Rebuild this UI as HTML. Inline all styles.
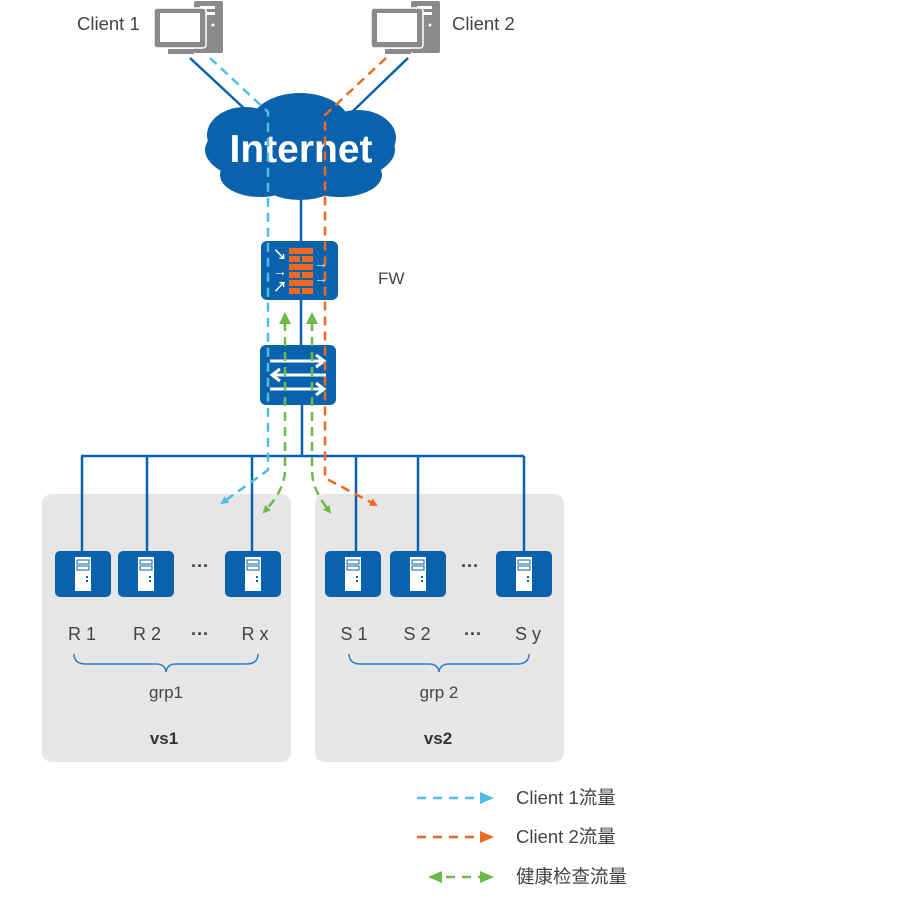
<!DOCTYPE html>
<html><head><meta charset="utf-8"><style>
html,body{margin:0;padding:0;background:#fff;}
svg{display:block;}
text{font-family:"Liberation Sans","Noto Sans CJK SC",sans-serif;fill:#444;}
</style></head><body>
<svg width="918" height="905" viewBox="0 0 918 905" xmlns="http://www.w3.org/2000/svg">
<defs>
<g id="pc">
  <rect x="40" y="0" width="29" height="52" rx="2" fill="#8a8a8a"/>
  <rect x="46" y="5" width="15" height="3" fill="#fff"/>
  <rect x="46" y="11" width="15" height="3" fill="#fff"/>
  <circle cx="59" cy="24" r="1.5" fill="#fff"/>
  <rect x="0" y="7" width="52" height="40" rx="3" fill="#8a8a8a" stroke="#fff" stroke-width="1.5"/>
  <rect x="6" y="12" width="40" height="29" fill="#fff"/>
  <rect x="14" y="48" width="26" height="5" fill="#8a8a8a"/>
</g>
<g id="srv">
  <rect x="0" y="0" width="56" height="46" rx="5" fill="#0b62ac"/>
  <rect x="20" y="6" width="16" height="34" fill="#fff"/>
  <rect x="22" y="9" width="12" height="4" fill="none" stroke="#0b62ac" stroke-width="1"/>
  <rect x="22" y="15" width="12" height="4" fill="none" stroke="#0b62ac" stroke-width="1"/>
  <rect x="31" y="25" width="2" height="2" fill="#0b62ac"/>
  <rect x="31" y="29" width="2" height="2" fill="#0b62ac"/>
</g>
<marker id="ac" markerWidth="8" markerHeight="8" refX="6" refY="4" orient="auto" markerUnits="userSpaceOnUse"><path d="M0,0 L8,4 L0,8z" fill="#4fbde6"/></marker>
<marker id="ao" markerWidth="8" markerHeight="8" refX="6" refY="4" orient="auto" markerUnits="userSpaceOnUse"><path d="M0,0 L8,4 L0,8z" fill="#ee6a1f"/></marker>
<marker id="ag" markerWidth="8" markerHeight="8" refX="6" refY="4" orient="auto" markerUnits="userSpaceOnUse"><path d="M0,0 L8,4 L0,8z" fill="#6cba4a"/></marker>
<marker id="acl" markerWidth="14" markerHeight="12" refX="12" refY="6" orient="auto" markerUnits="userSpaceOnUse"><path d="M0,0 L14,6 L0,12z" fill="#4fbde6"/></marker>
<marker id="aol" markerWidth="14" markerHeight="12" refX="12" refY="6" orient="auto" markerUnits="userSpaceOnUse"><path d="M0,0 L14,6 L0,12z" fill="#ee6a1f"/></marker>
<marker id="agl" markerWidth="14" markerHeight="12" refX="12" refY="6" orient="auto-start-reverse" markerUnits="userSpaceOnUse"><path d="M0,0 L14,6 L0,12z" fill="#6cba4a"/></marker>
</defs>

<rect x="42" y="494" width="249" height="268" rx="10" fill="#e6e6e6"/>
<rect x="315" y="494" width="249" height="268" rx="10" fill="#e6e6e6"/>

<use href="#pc" x="154" y="1"/>
<use href="#pc" x="371" y="1"/>
<text x="77" y="30" font-size="18.5">Client 1</text>
<text x="452" y="30" font-size="18.5">Client 2</text>

<g stroke="#0b62ac" stroke-width="2.5" fill="none">
<line x1="190" y1="58" x2="248" y2="112"/>
<line x1="408" y1="58" x2="352" y2="112"/>
<line x1="301" y1="190" x2="301" y2="242"/>
<line x1="301" y1="298" x2="301" y2="348"/>
<line x1="302" y1="404" x2="302" y2="456"/>
<line x1="81" y1="456" x2="524" y2="456"/>
<line x1="82" y1="456" x2="82" y2="552"/>
<line x1="147" y1="456" x2="147" y2="552"/>
<line x1="252" y1="456" x2="252" y2="552"/>
<line x1="356" y1="456" x2="356" y2="552"/>
<line x1="418" y1="456" x2="418" y2="552"/>
<line x1="524" y1="456" x2="524" y2="552"/>
</g>

<g fill="#0b62ac">
<ellipse cx="300" cy="150" rx="95" ry="38"/>
<ellipse cx="300" cy="125" rx="50" ry="32"/>
<ellipse cx="245" cy="135" rx="38" ry="28"/>
<ellipse cx="358" cy="138" rx="38" ry="28"/>
<ellipse cx="260" cy="175" rx="40" ry="22"/>
<ellipse cx="340" cy="175" rx="42" ry="22"/>
<ellipse cx="300" cy="180" rx="40" ry="20"/>
</g>
<text x="301" y="162" font-size="39" font-weight="bold" text-anchor="middle" style="fill:#fff">Internet</text>

<rect x="261" y="241" width="77" height="59" rx="6" fill="#0b62ac"/>
<g fill="#ee6a1f">
<rect x="289" y="248" width="24" height="6"/>
<rect x="289" y="256" width="11" height="6"/><rect x="302" y="256" width="11" height="6"/>
<rect x="289" y="264" width="24" height="6"/>
<rect x="289" y="272" width="11" height="6"/><rect x="302" y="272" width="11" height="6"/>
<rect x="289" y="280" width="24" height="6"/>
<rect x="289" y="288" width="11" height="6"/><rect x="302" y="288" width="11" height="6"/>
</g>
<g font-size="14" font-weight="bold">
<text x="273" y="260" style="fill:#fff">↘</text>
<text x="273" y="276" style="fill:#fff">→</text>
<text x="273" y="292" style="fill:#fff">↗</text>
<text x="314" y="268" style="fill:#fff">→</text>
<text x="314" y="283" style="fill:#fff">→</text>
</g>
<text x="378" y="284" font-size="17">FW</text>

<rect x="260" y="345" width="76" height="60" rx="6" fill="#0b62ac"/>
<g stroke="#fff" stroke-width="3" fill="none">
<line x1="270" y1="361" x2="322" y2="361"/><path d="M316,355 L324,361 L316,367"/>
<line x1="274" y1="375" x2="326" y2="375"/><path d="M280,369 L272,375 L280,381"/>
<line x1="270" y1="389" x2="322" y2="389"/><path d="M316,383 L324,389 L316,395"/>
</g>

<g fill="none" stroke-width="2.5" stroke-dasharray="9,6">
<path d="M210,58 L268,112 L268,470 L222,503" stroke="#4fbde6" marker-end="url(#ac)"/>
<path d="M386,58 L325,115 L325,478 L376,505" stroke="#ee6a1f" marker-end="url(#ao)"/>
<path d="M285,322 L285,470 Q285,490 264,512" stroke="#6cba4a" marker-end="url(#ag)"/>
<path d="M312,322 L312,470 Q312,490 330,512" stroke="#6cba4a" marker-end="url(#ag)"/>
</g>
<path d="M279,324 L285,312 L291,324z" fill="#6cba4a"/>
<path d="M306,324 L312,312 L318,324z" fill="#6cba4a"/>

<use href="#srv" x="55" y="551"/>
<use href="#srv" x="118" y="551"/>
<use href="#srv" x="225" y="551"/>
<use href="#srv" x="325" y="551"/>
<use href="#srv" x="390" y="551"/>
<use href="#srv" x="496" y="551"/>
<text x="200" y="572" font-size="18" text-anchor="middle" font-weight="bold">···</text>
<text x="470" y="572" font-size="18" text-anchor="middle" font-weight="bold">···</text>

<g font-size="18" text-anchor="middle">
<text x="82" y="640">R 1</text>
<text x="147" y="640">R 2</text>
<text x="200" y="640" font-weight="bold">···</text>
<text x="255" y="640">R x</text>
<text x="354" y="640">S 1</text>
<text x="417" y="640">S 2</text>
<text x="473" y="640" font-weight="bold">···</text>
<text x="528" y="640">S y</text>
</g>
<g fill="none" stroke="#2f7ec4" stroke-width="1.5">
<path d="M74,654 Q74,664 86,664 L156,664 Q165,664 166,672 Q167,664 176,664 L246,664 Q258,664 258,654"/>
<path d="M349,654 Q349,664 361,664 L429,664 Q438,664 439,672 Q440,664 449,664 L517,664 Q529,664 529,654"/>
</g>
<text x="166" y="698" font-size="17" text-anchor="middle">grp1</text>
<text x="439" y="698" font-size="17" text-anchor="middle">grp 2</text>
<text x="164" y="744" font-size="17" font-weight="bold" text-anchor="middle" style="fill:#333">vs1</text>
<text x="438" y="744" font-size="17" font-weight="bold" text-anchor="middle" style="fill:#333">vs2</text>

<g fill="none" stroke-width="2.5" stroke-dasharray="9,7">
<line x1="417" y1="798" x2="492" y2="798" stroke="#4fbde6" marker-end="url(#acl)"/>
<line x1="417" y1="837" x2="492" y2="837" stroke="#ee6a1f" marker-end="url(#aol)"/>
<line x1="430" y1="877" x2="492" y2="877" stroke="#6cba4a" marker-start="url(#agl)" marker-end="url(#agl)"/>
</g>
<g font-size="18.5">
<text x="516" y="804">Client 1流量</text>
<text x="516" y="843">Client 2流量</text>
<text x="516" y="883">健康检查流量</text>
</g>
</svg>
</body></html>
